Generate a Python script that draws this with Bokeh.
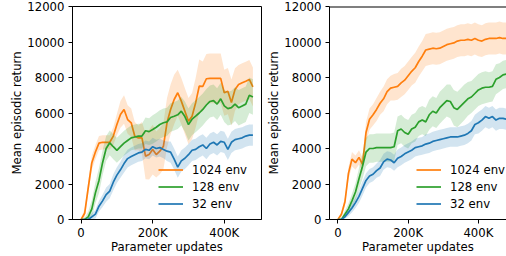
from bokeh.plotting import figure
from bokeh.models import FixedTicker, Span, Range1d
from bokeh.layouts import row
from bokeh.embed import file_html
from bokeh.resources import INLINE

# ---------------- data ----------------
STEPS_K = [0, 10, 20, 30, 40, 50, 60, 70, 80, 90, 100, 110, 120, 130, 140, 150, 160, 170,
           180, 190, 200, 210, 220, 230, 240, 250, 260, 270, 280, 290, 300, 310, 320, 330,
           340, 350, 360, 370, 380, 390, 400, 410, 420, 430, 440, 450, 460, 470, 480]

SERIES = ["1024 env", "128 env", "32 env"]
COLORS = ["#ff7f0e", "#2ca02c", "#1f77b4"]

# left panel
L_1024_mean = [0, 350, 1800, 3200, 3800, 4300, 4350, 4350, 4350, 4700, 5350, 5920, 6200, 5630,
               5450, 4690, 4600, 4600, 3570, 3660, 3940, 3660, 3850, 4130, 5450, 6200, 6760,
               7140, 6670, 6100, 5540, 5820, 6570, 7510, 7500, 7930, 7950, 7950, 7950, 7950,
               7140, 7230, 6590, 7320, 7600, 7700, 7790, 7890, 7470]
L_1024_spread = [50, 250, 350, 400, 400, 400, 400, 400, 400, 500, 600, 750, 800, 800, 800, 800,
                 700, 900, 1300, 1400, 1400, 1300, 1300, 1300, 1400, 1400, 1400, 1300, 1300,
                 1300, 1300, 1300, 1400, 1500, 1400, 1400, 1400, 1400, 1400, 1400, 1300, 1300,
                 1300, 1200, 1100, 1100, 1100, 1100, 1100]
L_128_mean = [0, 0, 150, 600, 1500, 2200, 3200, 4000, 4320, 4100, 3900, 4100, 4300, 4450, 4600,
              4650, 4700, 4700, 5000, 4950, 5070, 5200, 5350, 5450, 5500, 5750, 5820, 5900,
              6100, 5800, 5350, 5650, 5820, 6000, 6200, 6450, 6650, 6700, 6500, 6800, 6400,
              6250, 6300, 6500, 6300, 6400, 6500, 7000, 6900]
L_128_spread = [0, 100, 300, 500, 600, 700, 700, 700, 700, 700, 700, 700, 700, 700, 700, 700,
                700, 700, 750, 750, 800, 800, 800, 800, 800, 800, 800, 800, 800, 850, 900, 900,
                900, 900, 900, 900, 900, 900, 900, 900, 900, 950, 950, 950, 1000, 1000, 1000,
                1000, 1000]
L_32_mean = [0, 0, 0, 150, 300, 750, 1050, 1400, 1600, 2100, 2500, 2800, 3150, 3430, 3550, 3650,
             3750, 3800, 3950, 3900, 4100, 4000, 4050, 3950, 3850, 3800, 3400, 2950, 3300, 3450,
             3650, 3900, 3950, 4100, 4200, 4000, 4250, 4350, 4200, 4400, 4350, 3950, 4350, 4500,
             4550, 4600, 4700, 4750, 4750]
L_32_spread = [0, 50, 100, 200, 250, 300, 350, 400, 400, 450, 450, 450, 500, 500, 500, 500, 500,
               500, 500, 500, 500, 500, 500, 500, 550, 600, 600, 600, 600, 600, 600, 600, 600,
               600, 600, 600, 600, 600, 600, 600, 600, 600, 600, 600, 600, 600, 600, 600, 600]

# right panel
R_1024_mean = [0, 300, 1000, 2600, 3400, 3200, 3500, 3100, 4900, 5650, 5900, 6200, 6550, 6800,
               7200, 7400, 7450, 7500, 7700, 7850, 8100, 8350, 8550, 8900, 9200, 9550, 9600,
               9650, 9620, 9650, 9750, 9850, 9900, 9950, 10050, 10100, 10100, 10150, 10100,
               10200, 10100, 10050, 10150, 10200, 10200, 10200, 10250, 10200, 10200]
R_1024_spread = [50, 150, 250, 350, 400, 400, 400, 400, 600, 600, 600, 650, 650, 700, 700, 700,
                 750, 750, 800, 800, 800, 800, 850, 850, 850, 900, 900, 900, 900, 900, 900, 900,
                 900, 900, 900, 900, 900, 900, 900, 900, 900, 900, 900, 900, 900, 900, 900, 900,
                 900]
R_128_mean = [0, 0, 300, 600, 1050, 1550, 2300, 3000, 3800, 4000, 4000, 4050, 4050, 4050, 4050,
              4050, 4100, 5000, 5100, 4900, 4800, 5100, 5200, 5500, 5600, 5500, 5900, 6100, 6000,
              6300, 6500, 6700, 6650, 6300, 6200, 6400, 6600, 6800, 6900, 7100, 7300, 7400,
              7450, 7450, 7500, 7900, 8000, 8150, 8200]
R_128_spread = [0, 100, 200, 300, 400, 500, 600, 700, 800, 800, 800, 800, 800, 800, 800, 800,
                800, 800, 800, 800, 800, 800, 800, 800, 800, 800, 850, 850, 850, 900, 900, 900,
                950, 1000, 1000, 1000, 1000, 950, 900, 900, 900, 900, 900, 850, 850, 850, 800,
                800, 800]
R_32_mean = [0, 0, 150, 400, 650, 950, 1300, 1750, 2200, 2450, 2550, 2750, 2900, 3250, 3400,
             3350, 3200, 3450, 3550, 3700, 3800, 3900, 4050, 4100, 4150, 4250, 4300, 4400, 4450,
             4500, 4550, 4600, 4650, 4650, 4650, 4700, 4750, 4850, 5000, 5350, 5450, 5600, 5800,
             5700, 5800, 5600, 5700, 5700, 5650]
R_32_spread = [0, 50, 100, 200, 250, 300, 350, 400, 400, 400, 400, 400, 450, 450, 450, 450, 450,
               500, 500, 500, 500, 500, 500, 500, 500, 550, 550, 550, 550, 550, 550, 550, 550,
               550, 550, 550, 550, 550, 550, 550, 600, 600, 600, 600, 600, 600, 600, 600, 600]

Y_TICKS = [0, 2000, 4000, 6000, 8000, 10000, 12000]
X_TICKS = [0, 200000, 400000]
X_TICK_LABELS = ["0", "200K", "400K"]
X_LABEL = "Parameter updates"
Y_LABEL = "Mean episodic return"

FONT = "DejaVu Sans"
FS = "11.7px"


def make(means, spreads, width, border_left, border_right, x_end, legend_xy, box):
    p = figure(width=width, height=256, output_backend="svg", toolbar_location=None,
               x_range=Range1d(-24000, x_end), y_range=Range1d(0, 12000),
               min_border_left=border_left, min_border_right=border_right,
               min_border_top=6, min_border_bottom=0)
    p.grid.visible = False
    p.background_fill_color = "white"
    p.border_fill_color = "white"
    if box:
        p.outline_line_color = "black"
        p.outline_line_width = 1
    else:
        p.outline_line_color = None
        p.add_layout(Span(location=12000, dimension="width", line_color="black", line_width=2))
    xs = [k * 1000 for k in STEPS_K]
    for name, col, m, s in zip(SERIES, COLORS, means, spreads):
        lo = [max(a - b, 0) for a, b in zip(m, s)]
        hi = [a + b for a, b in zip(m, s)]
        p.varea(x=xs, y1=lo, y2=hi, fill_color=col, fill_alpha=0.2)
        p.line(xs, m, line_color=col, line_width=1.7, legend_label=name)
    for ax in (p.xaxis[0], p.yaxis[0]):
        ax.axis_line_color = "black"
        ax.axis_line_width = 1
        ax.major_tick_line_color = "black"
        ax.major_tick_in = 0
        ax.major_tick_out = 4
        ax.minor_tick_line_color = None
        ax.major_label_text_font = FONT
        ax.major_label_text_font_size = FS
        ax.major_label_text_color = "black"
        ax.axis_label_text_font = FONT
        ax.axis_label_text_font_size = FS
        ax.axis_label_text_font_style = "normal"
        ax.axis_label_text_color = "black"
        ax.axis_label_standoff = 0
        ax.major_label_standoff = 4
    p.xaxis[0].ticker = FixedTicker(ticks=X_TICKS)
    p.xaxis[0].major_label_overrides = {t: l for t, l in zip(X_TICKS, X_TICK_LABELS)}
    p.xaxis[0].axis_label = X_LABEL
    p.xaxis[0].major_label_standoff = 2
    p.xaxis[0].axis_label_standoff = -3
    p.yaxis[0].ticker = FixedTicker(ticks=Y_TICKS)
    p.yaxis[0].axis_label = Y_LABEL
    lg = p.legend[0]
    lg.location = legend_xy
    lg.border_line_color = None
    lg.background_fill_alpha = 0
    lg.padding = 2
    lg.spacing = 0
    lg.margin = 0
    lg.glyph_width = 25
    lg.glyph_height = 17
    lg.label_height = 17
    lg.label_standoff = 9
    lg.label_text_font = FONT
    lg.label_text_font_size = FS
    lg.label_text_color = "black"
    return p


p1 = make([L_1024_mean, L_128_mean, L_32_mean], [L_1024_spread, L_128_spread, L_32_spread],
          width=264, border_left=72, border_right=3, x_end=504000, legend_xy=(86, 7), box=True)
p2 = make([R_1024_mean, R_128_mean, R_32_mean], [R_1024_spread, R_128_spread, R_32_spread],
          width=242, border_left=62, border_right=0, x_end=480000, legend_xy=(87, 7), box=False)

layout = row(p1, p2)
open("out.html", "w").write(file_html(layout, INLINE))
